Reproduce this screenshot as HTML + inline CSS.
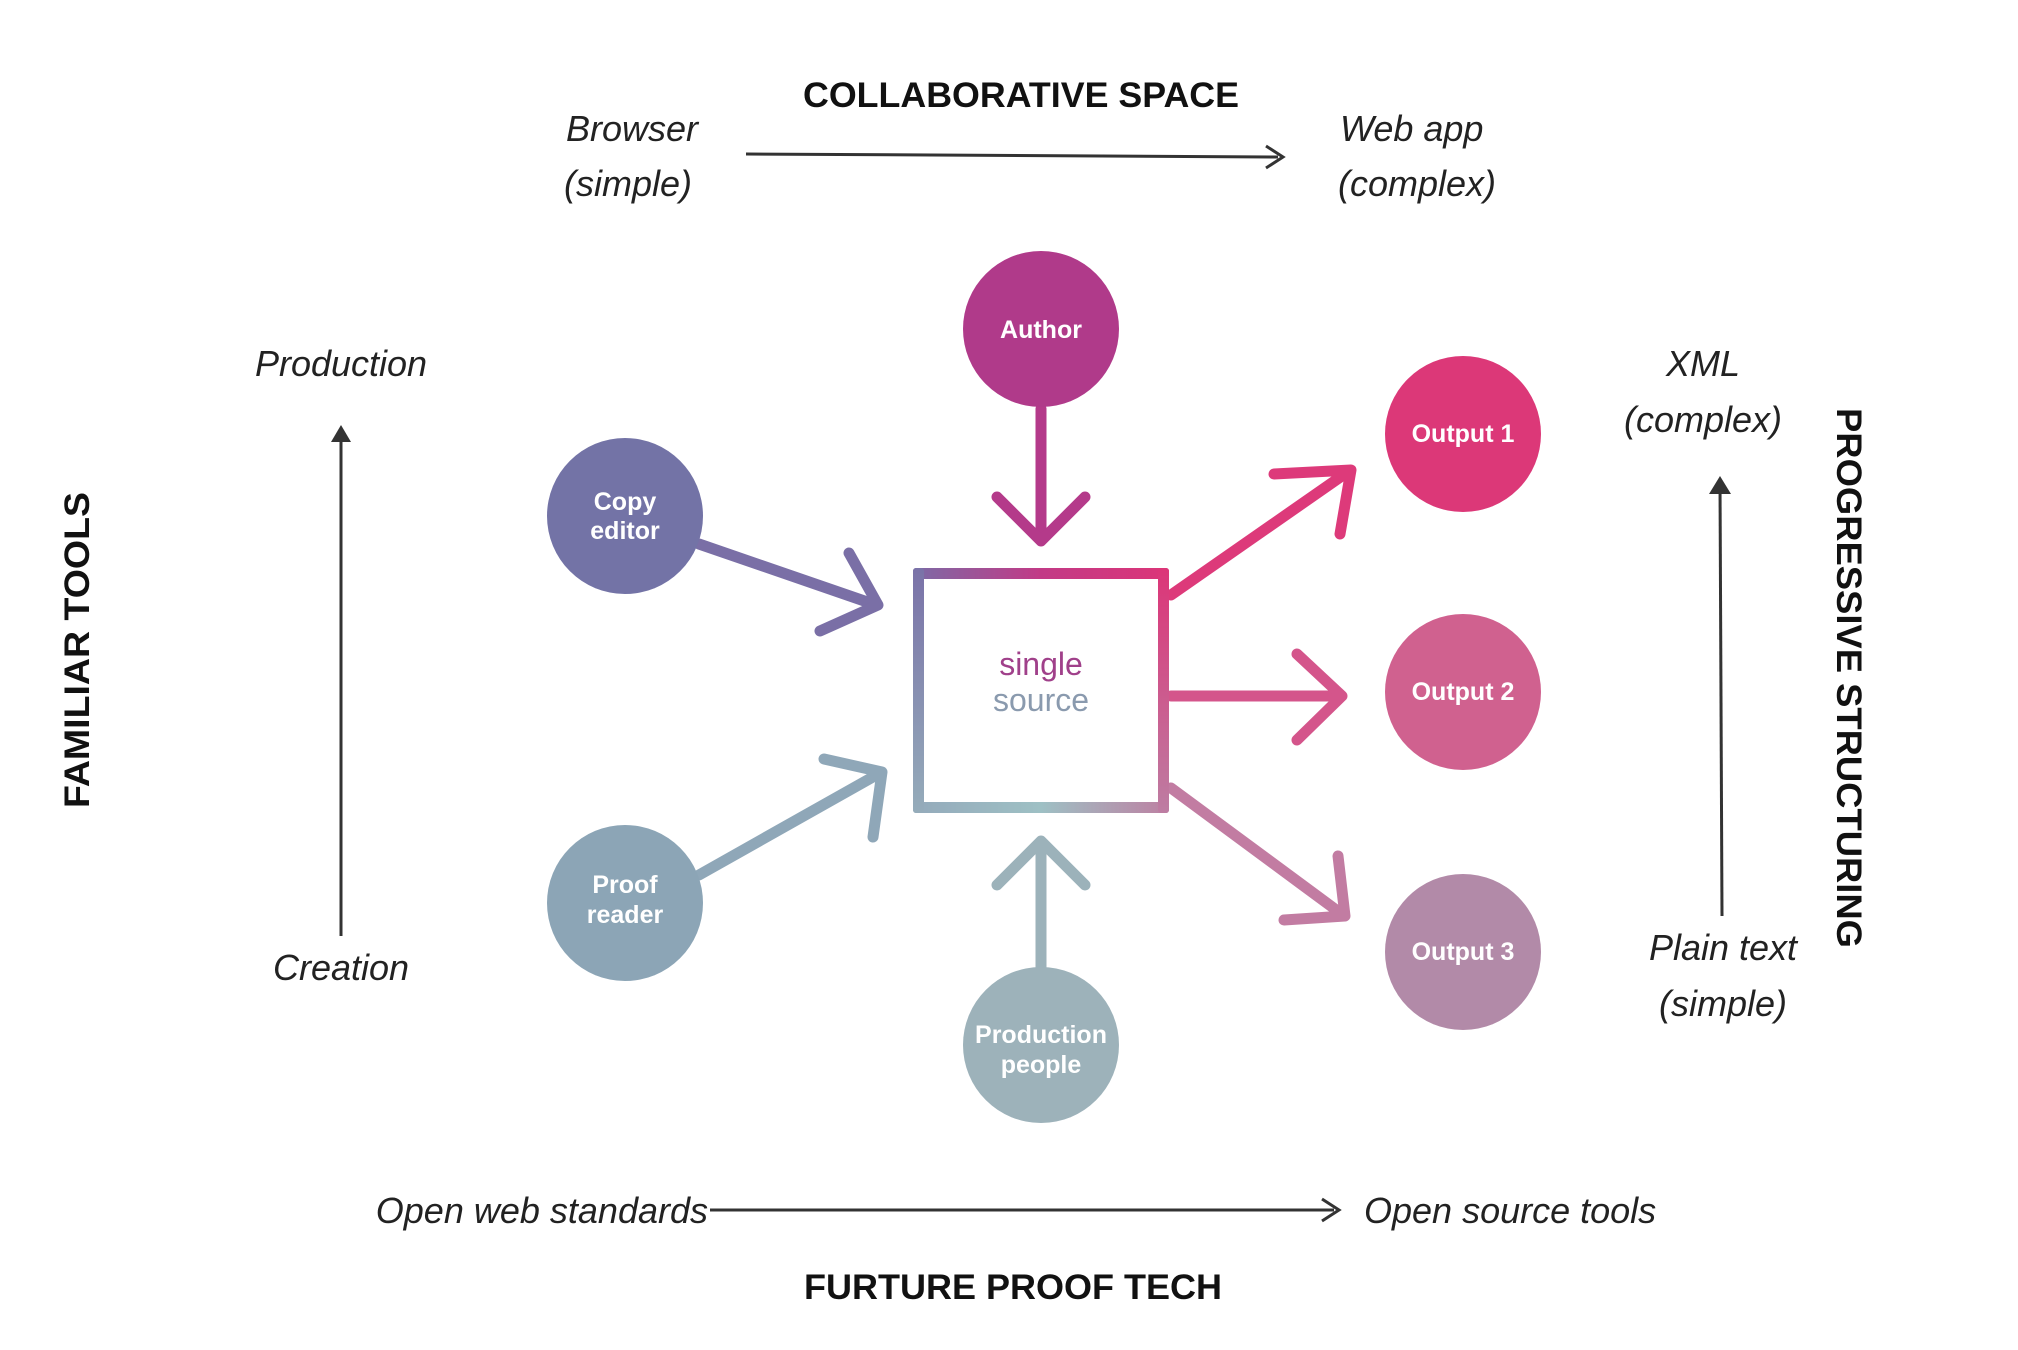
<!DOCTYPE html>
<html><head><meta charset="utf-8"><style>
html,body{margin:0;padding:0;background:#fff;}
svg{display:block;}
.it{font-family:"Liberation Sans",sans-serif;font-style:italic;font-size:36px;fill:#222;}
.hd{font-family:"Liberation Sans",sans-serif;font-weight:bold;font-size:35px;fill:#111;}
.nd{font-family:"Liberation Sans",sans-serif;font-weight:bold;font-size:25px;fill:#fff;}
</style></head><body>
<svg width="2018" height="1350" viewBox="0 0 2018 1350" xmlns="http://www.w3.org/2000/svg">
<defs>
<linearGradient id="sqL" x1="0" y1="0" x2="0" y2="1"><stop offset="0" stop-color="#7a72a8"/><stop offset="1" stop-color="#95acba"/></linearGradient>
<linearGradient id="sqR" x1="0" y1="0" x2="0" y2="1"><stop offset="0" stop-color="#dc3578"/><stop offset="1" stop-color="#bd7da2"/></linearGradient>
<linearGradient id="sqT" x1="0" y1="0" x2="1" y2="0"><stop offset="0" stop-color="#7c6aa6"/><stop offset="0.5" stop-color="#c23a86"/><stop offset="1" stop-color="#dc3578"/></linearGradient>
<linearGradient id="sqB" x1="0" y1="0" x2="1" y2="0"><stop offset="0" stop-color="#94aabb"/><stop offset="0.5" stop-color="#9ec0c4"/><stop offset="1" stop-color="#bd80a2"/></linearGradient>
</defs>

<!-- top axis -->
<text class="hd" x="1021" y="107" text-anchor="middle" textLength="436" lengthAdjust="spacingAndGlyphs">COLLABORATIVE SPACE</text>
<text class="it" x="566" y="141">Browser</text>
<text class="it" x="564" y="196">(simple)</text>
<line x1="746" y1="154" x2="1278" y2="157" stroke="#333" stroke-width="3"/>
<path d="M1266 146 L1283 157 L1266 168" fill="none" stroke="#333" stroke-width="3"/>
<text class="it" x="1340" y="141">Web app</text>
<text class="it" x="1338" y="196">(complex)</text>

<!-- left axis -->
<text class="it" x="341" y="376" text-anchor="middle">Production</text>
<line x1="341" y1="936" x2="341" y2="430" stroke="#333" stroke-width="3"/>
<path d="M331 442 L341 425 L351 442 Z" fill="#333"/>
<text class="it" x="341" y="980" text-anchor="middle">Creation</text>
<text class="hd" transform="translate(89,650) rotate(-90)" text-anchor="middle" textLength="316" lengthAdjust="spacingAndGlyphs">FAMILIAR TOOLS</text>

<!-- right axis -->
<text class="it" x="1703" y="376" text-anchor="middle">XML</text>
<text class="it" x="1703" y="432" text-anchor="middle">(complex)</text>
<line x1="1722" y1="916" x2="1720" y2="482" stroke="#333" stroke-width="3"/>
<path d="M1709 494 L1720 476 L1731 494 Z" fill="#333"/>
<text class="it" x="1723" y="960" text-anchor="middle">Plain text</text>
<text class="it" x="1723" y="1016" text-anchor="middle">(simple)</text>
<text class="hd" transform="translate(1837,678) rotate(90)" text-anchor="middle" textLength="540" lengthAdjust="spacingAndGlyphs">PROGRESSIVE STRUCTURING</text>

<!-- bottom axis -->
<text class="it" x="708" y="1223" text-anchor="end">Open web standards</text>
<line x1="710" y1="1210" x2="1334" y2="1210" stroke="#333" stroke-width="3"/>
<path d="M1322 1199 L1339 1210 L1322 1221" fill="none" stroke="#333" stroke-width="3"/>
<text class="it" x="1364" y="1223">Open source tools</text>
<text class="hd" x="1013" y="1299" text-anchor="middle" textLength="418" lengthAdjust="spacingAndGlyphs">FURTURE PROOF TECH</text>

<!-- arrows -->
<g fill="none" stroke-width="11" stroke-linecap="round" stroke-linejoin="round">
<g stroke="#b43a8a"><line x1="1041" y1="409" x2="1041" y2="539"/><path d="M997 497 L1041 541 L1085 497"/></g>
<g stroke="#7a6fa6"><line x1="699" y1="544" x2="876" y2="605"/><path d="M849 553 L878 605 L820 631"/></g>
<g stroke="#8fa7b8"><line x1="699" y1="875" x2="880" y2="773"/><path d="M824 759 L882 772 L873 837"/></g>
<g stroke="#9cb2ba"><line x1="1041" y1="968" x2="1041" y2="845"/><path d="M997 885 L1041 841 L1085 885"/></g>
<g stroke="#dd3a7a"><line x1="1171" y1="595" x2="1349" y2="471"/><path d="M1274 474 L1351 470 L1340 534"/></g>
<g stroke="#d4558b"><line x1="1171" y1="696" x2="1340" y2="696"/><path d="M1297 654 L1342 696 L1297 740"/></g>
<g stroke="#c27ca2"><line x1="1171" y1="788" x2="1343" y2="915"/><path d="M1338 856 L1345 916 L1284 920"/></g>
</g>

<!-- square -->
<rect x="913" y="568" width="256" height="11" rx="3" fill="url(#sqT)"/>
<rect x="913" y="802" width="256" height="11" rx="3" fill="url(#sqB)"/>
<rect x="913" y="568" width="11" height="245" rx="3" fill="url(#sqL)"/>
<rect x="1158" y="568" width="11" height="245" rx="3" fill="url(#sqR)"/>
<text x="1041" y="675" text-anchor="middle" font-family="Liberation Sans,sans-serif" font-size="32" fill="#a0408a">single</text>
<text x="1041" y="711" text-anchor="middle" font-family="Liberation Sans,sans-serif" font-size="32" fill="#8a9aae">source</text>

<!-- circles -->
<circle cx="1041" cy="329" r="78" fill="#b03a8a"/>
<text class="nd" x="1041" y="338" text-anchor="middle">Author</text>
<circle cx="625" cy="516" r="78" fill="#7373a6"/>
<text class="nd" x="625" y="510" text-anchor="middle">Copy</text>
<text class="nd" x="625" y="539" text-anchor="middle">editor</text>
<circle cx="625" cy="903" r="78" fill="#8ca5b6"/>
<text class="nd" x="625" y="893" text-anchor="middle">Proof</text>
<text class="nd" x="625" y="923" text-anchor="middle">reader</text>
<circle cx="1041" cy="1045" r="78" fill="#9db2ba"/>
<text class="nd" x="1041" y="1043" text-anchor="middle">Production</text>
<text class="nd" x="1041" y="1073" text-anchor="middle">people</text>
<circle cx="1463" cy="434" r="78" fill="#dc3878"/>
<text class="nd" x="1463" y="442" text-anchor="middle">Output 1</text>
<circle cx="1463" cy="692" r="78" fill="#d0618f"/>
<text class="nd" x="1463" y="700" text-anchor="middle">Output 2</text>
<circle cx="1463" cy="952" r="78" fill="#b28aa8"/>
<text class="nd" x="1463" y="960" text-anchor="middle">Output 3</text>
</svg>
</body></html>
